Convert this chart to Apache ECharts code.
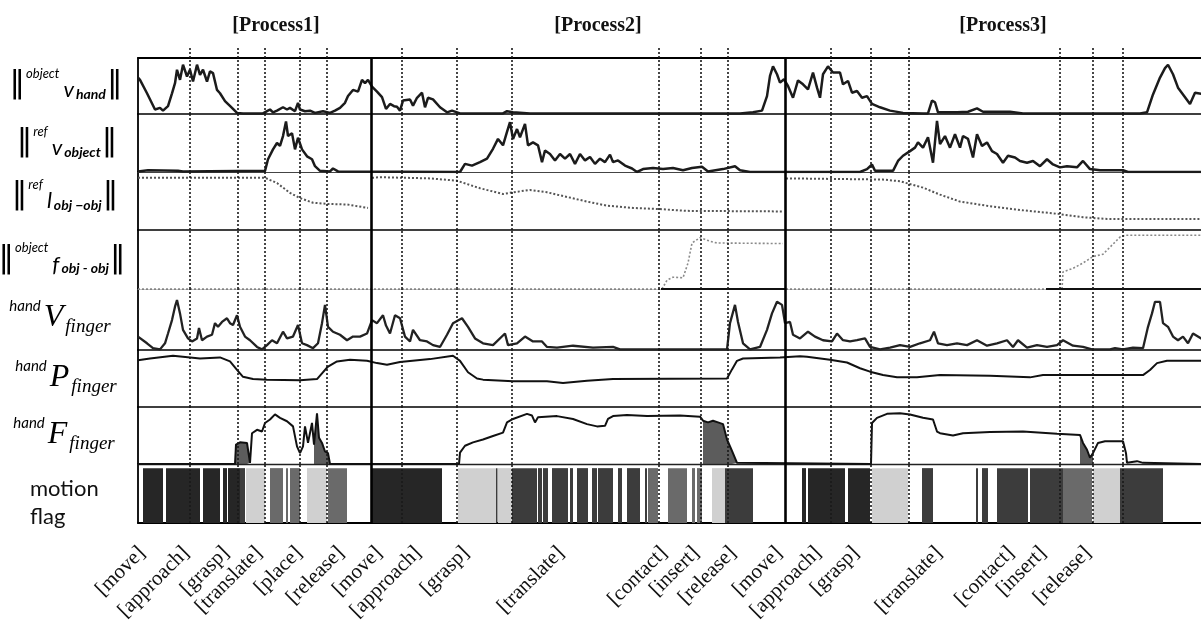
<!DOCTYPE html>
<html><head><meta charset="utf-8">
<script src="https://cdn.jsdelivr.net/npm/echarts@6/dist/echarts.min.js"></script>
<style>html,body{margin:0;padding:0;background:#fff}#c{width:1201px;height:628px}</style>
</head><body><div id="c"></div>
<script>
// ---------- DATA (time units along x, values in % of panel height) ----------
const processTitles = ['[Process1]', '[Process2]', '[Process3]'];
const processTitleTimes = [138, 460, 865];
const events = [52, 100, 127, 162, 189, 264, 319, 374, 521, 563, 590, 693, 733, 771, 922, 955, 985];
const dividers = [233, 647];
const phaseLabels = ['[move]', '[approach]', '[grasp]', '[translate]', '[place]', '[release]',
  '[move]', '[approach]', '[grasp]', '[translate]', '[contact]', '[insert]', '[release]',
  '[move]', '[approach]', '[grasp]', '[translate]', '[contact]', '[insert]', '[release]'];
const phaseLabelTimes = [4, 48, 88, 121, 161, 203, 241, 280, 328, 423, 526, 558, 595, 641, 680, 718, 801, 873, 905, 950];

const rowSup = ['object', 'ref', 'ref', 'object', 'hand', 'hand', 'hand'];
const rowMain = ['v', 'v', 'l', 'f', 'V', 'P', 'F'];
const rowSub = ['hand', 'object', 'obj \u2212obj', 'obj - obj', 'finger', 'finger', 'finger'];
const rowNorm = [true, true, true, true, false, false, false];
const flagLabel = ['motion', 'flag'];

const vHand = [[0,65],[2,61],[9,37],[17,8],[22,11],[25,6],[30,14],[34,37],[37,55],[39,79],[42,61],[45,88],[49,67],[52,79],[55,58],[59,88],[62,70],[65,79],[69,58],[72,76],[75,73],[79,43],[82,37],[87,23],[94,11],[99,2],[105,1],[125,1],[129,5],[132,8],[135,3],[139,6],[145,12],[149,8],[152,11],[157,5],[160,20],[162,8],[167,5],[172,6],[177,2],[185,5],[192,2],[197,6],[202,11],[207,20],[210,32],[215,43],[220,40],[224,61],[227,55],[230,61],[234,49],[239,40],[244,30],[248,9],[252,18],[256,14],[259,13],[262,6],[265,24],[272,26],[275,15],[279,29],[284,38],[287,12],[290,29],[295,26],[302,12],[309,3],[314,6],[322,1],[365,1],[369,5],[375,3],[392,1],[592,1],[602,1],[615,3],[624,6],[629,32],[632,68],[635,85],[639,71],[642,56],[646,62],[650,50],[655,29],[660,60],[665,53],[670,44],[675,74],[679,47],[682,29],[685,71],[690,85],[695,74],[702,74],[705,53],[710,59],[714,38],[719,41],[724,29],[729,32],[734,18],[742,12],[752,6],[765,2],[785,1],[790,1],[794,24],[797,21],[800,3],[819,3],[830,4],[839,10],[845,4],[852,4],[872,4],[885,1],[1002,1],[1009,3],[1015,35],[1022,65],[1027,82],[1030,88],[1035,71],[1040,47],[1045,35],[1052,18],[1057,38],[1066,35]];

const vObject = [[0,1],[10,3],[12,1],[40,2],[45,1],[127,2],[130,22],[135,39],[139,50],[142,45],[145,62],[148,87],[150,62],[154,67],[157,39],[160,59],[164,39],[169,27],[174,22],[177,10],[182,2],[192,1],[195,6],[200,1],[322,0],[324,3],[327,14],[334,11],[342,17],[349,23],[355,40],[360,57],[365,46],[369,69],[372,86],[375,57],[379,74],[382,60],[387,83],[390,46],[395,51],[400,46],[404,17],[407,37],[412,31],[417,20],[422,31],[427,23],[432,31],[437,14],[442,31],[447,20],[452,26],[457,14],[462,23],[467,17],[472,30],[475,17],[480,20],[487,11],[494,6],[499,0],[505,5],[515,7],[525,5],[535,7],[545,3],[554,7],[564,9],[570,1],[585,5],[597,10],[602,3],[612,0],[722,0],[729,5],[734,13],[737,2],[755,2],[760,19],[765,28],[772,36],[777,42],[780,51],[785,42],[790,60],[795,16],[799,88],[802,48],[807,62],[812,42],[817,65],[822,42],[825,62],[830,57],[835,25],[839,65],[844,45],[849,51],[854,36],[859,31],[865,16],[870,28],[877,25],[882,19],[889,16],[895,19],[902,10],[909,22],[915,13],[922,8],[929,10],[939,8],[945,19],[952,5],[962,3],[985,3],[990,0],[1066,0]];

const lObj = [[0,90],[127,90],[139,81],[152,64],[162,55],[175,47],[189,45],[209,44],[230,38],[232,'-'],[234,90],[242,91],[292,89],[319,85],[342,72],[365,62],[375,65],[392,69],[409,65],[429,57],[449,49],[469,42],[495,38],[522,36],[549,33],[645,32],[646,'-'],[648,89],[745,87],[762,84],[785,73],[802,61],[822,49],[852,41],[885,34],[919,28],[945,22],[969,19],[1066,19]];

const fObj = [[0,0],[524,0],[529,15],[535,20],[545,19],[550,44],[554,78],[562,87],[572,81],[579,78],[645,77],[646,'-'],[648,0],[924,0],[925,29],[935,35],[945,44],[955,55],[965,59],[975,76],[982,88],[987,91],[1066,91]];
const fZeroSegments = [[523, 647], [908, 1066]];

const vFinger = [[0,22],[2,19],[9,11],[15,3],[22,1],[27,11],[30,27],[34,49],[37,71],[39,82],[42,60],[45,33],[50,19],[54,14],[59,19],[61,36],[64,16],[69,22],[74,25],[77,44],[80,38],[84,46],[89,52],[92,44],[95,41],[99,57],[102,38],[107,22],[112,16],[119,5],[124,1],[129,8],[134,16],[139,11],[145,30],[149,19],[155,22],[160,41],[164,11],[169,8],[175,3],[180,11],[184,44],[187,74],[190,38],[195,30],[202,25],[209,16],[215,22],[222,22],[229,27],[234,49],[239,44],[245,57],[248,40],[252,27],[257,57],[262,52],[267,22],[272,14],[275,33],[282,16],[289,14],[295,8],[302,5],[309,25],[315,44],[324,52],[330,38],[337,19],[345,11],[355,8],[367,27],[370,8],[379,11],[387,22],[395,14],[404,14],[409,5],[419,4],[435,7],[455,4],[475,5],[482,1],[589,1],[592,44],[597,74],[600,46],[605,11],[612,1],[622,5],[629,33],[634,60],[639,79],[644,74],[647,44],[652,46],[655,25],[662,19],[670,30],[677,22],[685,16],[694,14],[699,27],[705,16],[712,14],[719,16],[727,19],[732,5],[742,1],[752,4],[762,8],[772,5],[782,11],[792,16],[796,30],[800,11],[809,8],[819,11],[829,8],[839,16],[849,7],[859,11],[869,16],[875,5],[880,16],[889,4],[899,8],[909,5],[919,8],[925,16],[935,7],[945,5],[954,1],[972,1],[977,3],[985,1],[995,4],[1005,3],[1010,38],[1014,60],[1017,79],[1022,79],[1025,44],[1030,38],[1035,22],[1040,16],[1045,22],[1050,11],[1055,27],[1066,16]];

const pFinger = [[0,82],[2,81],[12,85],[35,90],[62,85],[82,87],[92,80],[99,65],[105,53],[115,49],[129,48],[162,47],[179,49],[184,59],[190,71],[199,80],[212,83],[229,81],[239,77],[249,74],[262,79],[292,84],[315,90],[322,81],[330,61],[339,50],[345,48],[375,45],[409,45],[425,42],[449,46],[475,49],[589,50],[594,66],[599,81],[605,85],[642,87],[662,89],[669,88],[692,83],[709,78],[722,68],[732,62],[745,56],[759,52],[779,52],[802,56],[852,55],[892,52],[905,56],[1005,56],[1012,65],[1019,77],[1029,81],[1066,81]];

const fFinger = [[0,0],[97,0],[98,34],[102,38],[109,37],[112,2],[114,54],[119,60],[124,57],[127,72],[132,78],[137,87],[142,81],[149,75],[155,66],[159,31],[162,19],[165,31],[167,66],[170,37],[174,72],[176,34],[179,89],[181,46],[184,37],[187,22],[190,19],[192,0],[321,0],[322,20],[327,32],[335,38],[345,43],[355,49],[365,55],[369,73],[375,79],[389,88],[394,85],[397,73],[400,82],[419,84],[435,79],[449,70],[459,66],[467,67],[470,79],[475,84],[489,86],[509,84],[542,85],[562,83],[565,76],[570,73],[575,76],[580,73],[585,70],[589,43],[594,23],[599,2],[600,0],[733,0],[734,72],[739,81],[749,88],[762,89],[772,87],[785,81],[795,78],[799,57],[802,54],[815,50],[825,54],[852,56],[885,57],[919,53],[942,51],[945,37],[949,25],[952,11],[955,19],[960,37],[967,40],[985,40],[988,19],[989,2],[999,5],[1005,2],[1007,0],[1066,0]];
const fFingerHatch = [[98, 112], [176, 192], [565, 600], [942, 956]];

// motion flag segments: [start, end, shade] shade 0 darkest .. 3 light
const motionFlag = [[5,25,0],[28,62,0],[65,82,0],[85,89,0],[90,102,0],[102,107,1],[108,127,3],[132,145,2],[148,150,2],[152,162,2],[169,179,3],[179,189,3],[190,209,2],
  [233,304,0],[320,358,3],[358,359.5,1],[360,374,3],[374,399,1],[400,404,1],[405,410,1],[414,430,1],[432,435,1],[439,450,1],[454,459,1],[460,475,1],[480,484,1],[489,502,1],[507,509,1],[510,520,2],[530,549,2],[554,557,2],[559,564,2],[574,587,3],[587,615,1],
  [664,668,0],[670,707,0],[710,732,0],[734,770,3],[784,795,1],[838,840,1],[844,850,1],[859,890,1],[892,925,1],[925,954,2],[955,982,3],[982,1025,1]];

// ---------- LAYOUT / STYLE ----------
const rows = [[58,56],[114,58],[172,58],[230,59],[289,61],[350,57],[407,57],[464,59]];
const bottomLine = [
  {color:'#000',width:1.6,type:'solid'},
  {color:'#444',width:1.2,type:'solid'},
  {color:'#000',width:1.6,type:'solid'},
  {color:'#777',width:1.2,type:[2,2]},
  {color:'#000',width:1.6,type:'solid'},
  {color:'#000',width:1.6,type:'solid'},
  {color:'#222',width:1.4,type:'solid'},
  {color:'#000',width:1.8,type:'solid'}
];
const shadeColors = ['#262626', '#3c3c3c', '#6a6a6a', '#d0d0d0'];
const XMAX = 1066;
const FLAG_TOP = 93;

const grids = rows.map(([top, h]) => ({left: 138, width: 1066, top: top, height: h, outerBoundsMode: 'none', containLabel: false}));
grids.push({left: 138, width: 1066, top: 46, height: 12, outerBoundsMode: 'none'});

const xAxes = rows.map((r, i) => ({
  gridIndex: i, type: 'value', min: 0, max: XMAX, position: 'bottom',
  axisLine: {show: true, onZero: false, lineStyle: bottomLine[i]},
  axisTick: {show: false}, splitLine: {show: false},
  axisLabel: i === 7 ? {
    show: true, customValues: phaseLabelTimes, hideOverlap: false,
    formatter: v => phaseLabels[phaseLabelTimes.indexOf(v)],
    rotate: 45, margin: 27, fontFamily: 'Liberation Serif', fontSize: 21, color: '#111'
  } : {show: false}
}));
// index 8: extension grid (dotted event lines above the top border)
xAxes.push({gridIndex: 8, type: 'value', min: 0, max: XMAX, show: false});
// index 9: top border + process titles of grid 0
xAxes.push({
  gridIndex: 0, type: 'value', min: 0, max: XMAX, position: 'top',
  axisLine: {show: true, onZero: false, lineStyle: {color: '#000', width: 1.8}},
  axisTick: {show: false}, splitLine: {show: false},
  axisLabel: {show: true, customValues: processTitleTimes, hideOverlap: false,
    formatter: v => processTitles[processTitleTimes.indexOf(v)],
    margin: 22, fontFamily: 'Liberation Serif', fontWeight: 'bold', fontSize: 20, color: '#111'}
});

const yAxes = rows.map((r, i) => ({
  gridIndex: i, type: 'value', min: 0, max: 100,
  axisLine: {show: true, onZero: false, lineStyle: {color: '#000', width: 1.8}},
  axisTick: {show: false}, axisLabel: {show: false}, splitLine: {show: false}
}));
yAxes.push({gridIndex: 8, type: 'value', min: 0, max: 1, show: false});

function vLines(withDividers) {
  const d = events.map(t => ({xAxis: t}));
  if (withDividers) dividers.forEach(t => d.push({xAxis: t, lineStyle: {type: 'solid', width: 2.6, color: '#000'}}));
  return {silent: true, symbol: ['none', 'none'], label: {show: false}, animation: false,
    lineStyle: {type: [2, 2], width: 1.6, color: '#1a1a1a'}, data: d};
}
function lineSeries(data, idx, style, extra) {
  return Object.assign({type: 'line', data: data, xAxisIndex: idx, yAxisIndex: idx, showSymbol: false,
    symbol: 'none', animation: false, silent: true, connectNulls: false, lineStyle: style, z: 3}, extra || {});
}

const fZeroData = [];
fZeroSegments.forEach(([a, b]) => { fZeroData.push([a, 0], [b, 0], [b, '-']); });
const hatchData = [];
fFingerHatch.forEach(([a, b]) => {
  fFinger.filter(p => p[0] >= a && p[0] <= b).forEach(p => hatchData.push(p));
  hatchData.push([b, '-']);
});

const series = [
  lineSeries(vHand, 0, {color: '#1b1b1b', width: 2.5}, {markLine: vLines(true)}),
  lineSeries(vObject, 1, {color: '#1b1b1b', width: 2.5}, {markLine: vLines(true)}),
  lineSeries(lObj, 2, {color: '#555', width: 2, type: [2, 2]}, {markLine: vLines(true)}),
  lineSeries(fObj, 3, {color: '#8a8a8a', width: 1.6, type: [2, 2]}, {markLine: vLines(true)}),
  lineSeries(fZeroData, 3, {color: '#111', width: 2}),
  lineSeries(vFinger, 4, {color: '#222', width: 2.3}, {markLine: vLines(true)}),
  lineSeries(pFinger, 5, {color: '#111', width: 2}, {markLine: vLines(true)}),
  lineSeries(fFinger, 6, {color: '#111', width: 2}, {markLine: vLines(true)}),
  lineSeries(hatchData, 6, {width: 0}, {areaStyle: {color: '#333', opacity: 0.8}, z: 2}),
  {
    type: 'custom', xAxisIndex: 7, yAxisIndex: 7, data: motionFlag, animation: false, silent: true,
    encode: {x: [0, 1]}, z: 2,
    renderItem: (params, api) => {
      const p0 = api.coord([api.value(0), FLAG_TOP]);
      const p1 = api.coord([api.value(1), 0]);
      return {type: 'rect', shape: {x: p0[0], y: p0[1], width: p1[0] - p0[0], height: p1[1] - p0[1]},
        style: {fill: shadeColors[api.value(2)]}};
    }
  },
  lineSeries([], 7, {width: 0}, {markLine: vLines(true), z: 5}),
  lineSeries([], 8, {width: 0}, {markLine: vLines(false), z: 5})
];

// ---------- left labels ----------
const richNorm = {
  bar: {fontFamily: 'DejaVu Sans', fontSize: 31, lineHeight: 34, color: '#666', verticalAlign: 'middle'},
  sup: {fontFamily: 'Lato', fontStyle: 'italic', fontSize: 13, lineHeight: 16, color: '#111', verticalAlign: 'top', padding: [0, 4, 0, 1]},
  main: {fontFamily: 'Lato', fontStyle: 'italic', fontSize: 22, lineHeight: 24, color: '#111', verticalAlign: 'bottom'},
  sub: {fontFamily: 'Lato', fontStyle: 'italic', fontWeight: 'bold', fontSize: 14, lineHeight: 21, color: '#111', verticalAlign: 'bottom', padding: [0, 1, 0, 2]},
  sup2: {fontFamily: 'Lato', fontStyle: 'italic', fontSize: 15, lineHeight: 18, color: '#111', verticalAlign: 'top', padding: [0, 3, 0, 0]},
  main2: {fontFamily: 'Liberation Serif', fontStyle: 'italic', fontSize: 32, lineHeight: 38, color: '#111', verticalAlign: 'middle'},
  sub2: {fontFamily: 'Liberation Serif', fontStyle: 'italic', fontSize: 19, lineHeight: 20, color: '#111', verticalAlign: 'bottom', padding: [0, 0, 0, 2]}
};
const labelX = [66, 67, 65, 62, 60, 66, 64];
const labelDy = [-2, -1, -6, -1, -2, -1, -1];
const graphics = rowSup.map((s, i) => {
  const txt = rowNorm[i]
    ? `{bar|\u2016}{sup|${s}}{main|${rowMain[i]}}{sub|${rowSub[i]}}{bar|\u2016}`
    : `{sup2|${s}}{main2|${rowMain[i]}}{sub2|${rowSub[i]}}`;
  return {type: 'text', x: labelX[i], y: rows[i][0] + rows[i][1] / 2 + labelDy[i], silent: true,
    style: {text: txt, rich: richNorm, align: 'center', verticalAlign: 'middle'}};
});
graphics.push({type: 'text', x: 30, y: rows[7][0] + rows[7][1] / 2 + 9, silent: true,
  style: {text: flagLabel.join('\n'), fontFamily: 'Lato', fontSize: 22, lineHeight: 28, fill: '#111', align: 'left', verticalAlign: 'middle'}});

const chart = echarts.init(document.getElementById('c'));
chart.setOption({
  backgroundColor: '#fff',
  animation: false,
  grid: grids, xAxis: xAxes, yAxis: yAxes, series: series, graphic: graphics
});
</script></body></html>
